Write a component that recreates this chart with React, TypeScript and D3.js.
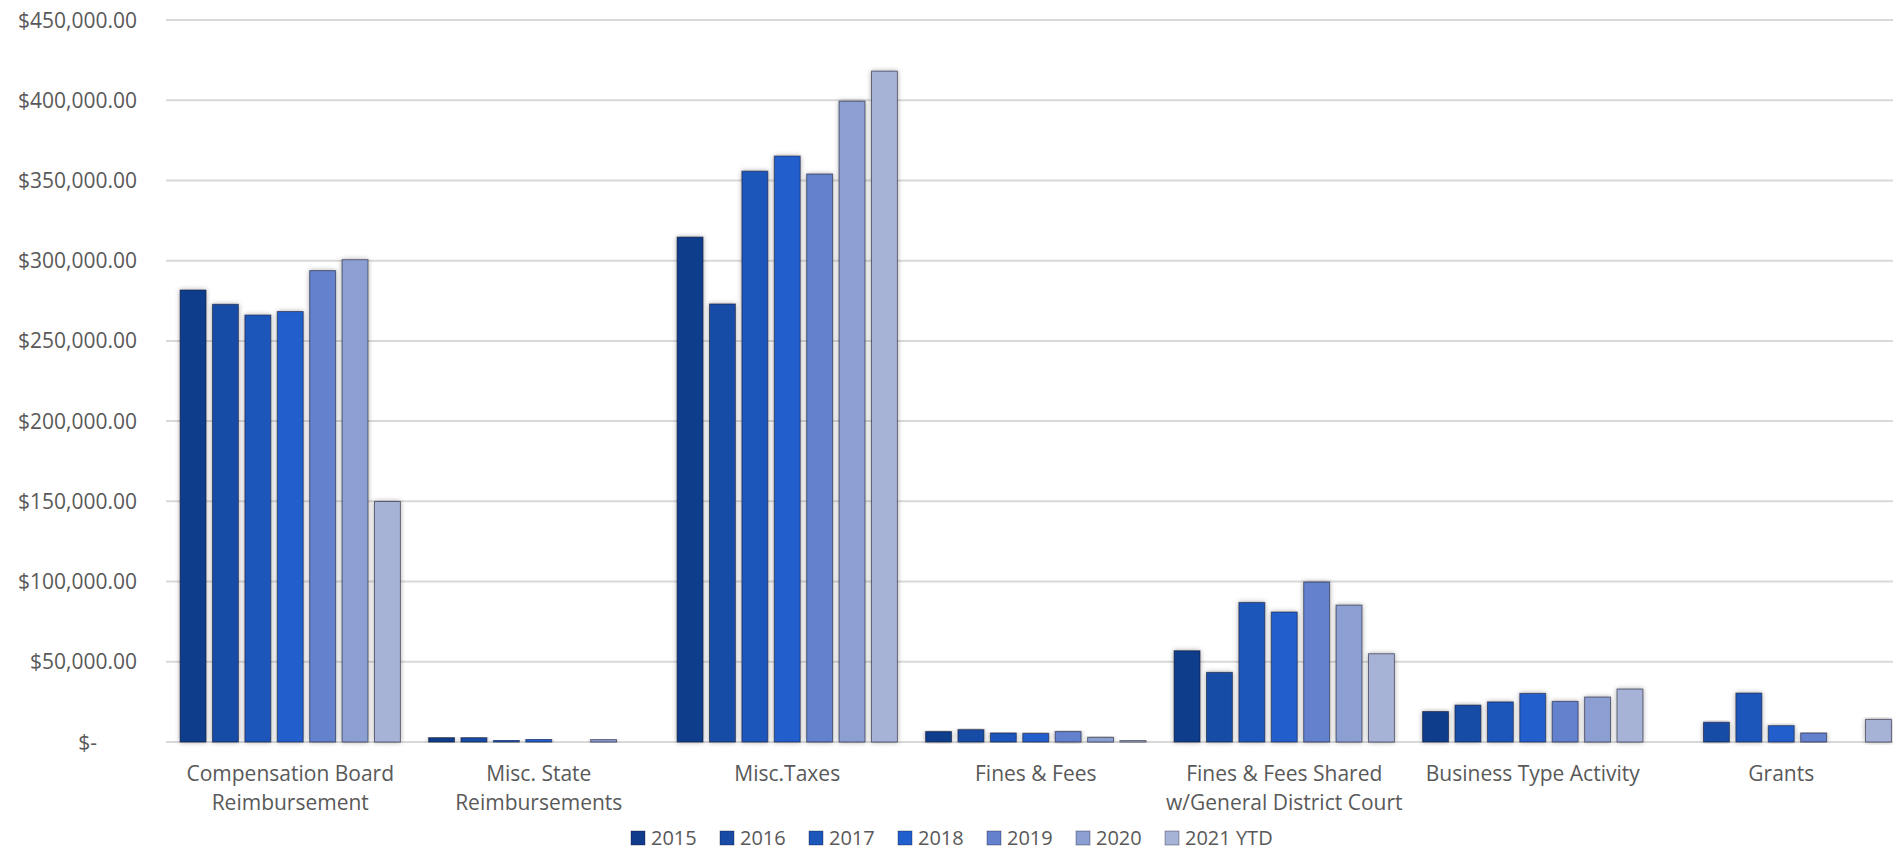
import React from "react";
import * as d3 from "d3";

const categories: string[][] = [
  ["Compensation Board", "Reimbursement"],
  ["Misc. State", "Reimbursements"],
  ["Misc.Taxes"],
  ["Fines & Fees"],
  ["Fines & Fees Shared", "w/General District Court"],
  ["Business Type Activity"],
  ["Grants"],
];

const seriesNames = ["2015", "2016", "2017", "2018", "2019", "2020", "2021 YTD"];

const v2015 = [281700, 2700, 314700, 6500, 56900, 19000, 0];
const v2016 = [272800, 2700, 273000, 7700, 43400, 23000, 12300];
const v2017 = [266100, 1100, 355800, 5600, 87000, 25000, 30500];
const v2018 = [268300, 1700, 365200, 5400, 81000, 30300, 10200];
const v2019 = [293800, 0, 354000, 6500, 99700, 25300, 5600];
const v2020 = [300600, 1500, 399400, 2900, 85300, 28000, 0];
const v2021 = [149900, 0, 418100, 900, 55000, 33000, 14100];

const seriesValues = [v2015, v2016, v2017, v2018, v2019, v2020, v2021];

const colors = ["#113C8B", "#174BA6", "#1D56BA", "#205FCD", "#6381CD", "#8C9FD2", "#A7B3D6"];

const yTicks = [0, 50000, 100000, 150000, 200000, 250000, 300000, 350000, 400000, 450000];

const W = 1893;
const H = 851;
const FONT = "'Open Sans', 'Liberation Sans', sans-serif";
const TEXT = "#595959";

export default function App() {
  const plotLeft = 166;
  const band = 248.5;
  const x0 = d3
    .scaleBand<number>()
    .domain(categories.map((_, i) => i))
    .range([plotLeft, plotLeft + band * categories.length])
    .padding(0);
  const x1 = d3
    .scaleBand<string>()
    .domain(seriesNames)
    .range([10.85, 237.65])
    .paddingInner(0.2)
    .paddingOuter(0.1);
  const y = d3.scaleLinear().domain([0, 450000]).range([742, 20]);

  const fmt = (d: number) => (d === 0 ? "$-" : "$" + d3.format(",.2f")(d));

  const legendStart = 631;
  const legendPitch = 89;
  const legendBase = 845;

  return (
    <div style={{ position: "absolute", left: 0, top: 0, width: W, height: H, overflow: "hidden", background: "#fff" }}>
      <svg width={W} height={H} style={{ display: "block", fontFamily: FONT }}>
        <defs>
          <filter id="barShadow" x="-50%" y="-10%" width="200%" height="120%">
            <feDropShadow dx="0" dy="0" stdDeviation="2.6" floodColor="#000" floodOpacity="0.35" />
          </filter>
        </defs>
        {/* gridlines */}
        {yTicks.map((t) => (
          <line
            key={t}
            x1={plotLeft}
            x2={W + 20}
            y1={y(t)}
            y2={y(t)}
            stroke="#D9D9D9"
            strokeWidth={2}
          />
        ))}
        {/* y labels */}
        {yTicks.map((t) => (
          <text
            key={"l" + t}
            x={t === 0 ? 97 : 137}
            y={y(t)}
            dy="0.36em"
            textAnchor="end"
            fontSize={21}
            fill={TEXT}
          >
            {fmt(t)}
          </text>
        ))}
        {/* bars */}
        {categories.map((_, ci) => (
          <g key={ci} transform={`translate(${x0(ci)},0)`}>
            {seriesNames.map((s, si) => {
              const v = seriesValues[si][ci];
              if (!v) return null;
              return (
                <rect
                  key={s}
                  x={x1(s)}
                  y={y(v)}
                  width={x1.bandwidth()}
                  height={y(0) - y(v)}
                  fill={colors[si]}
                  stroke="rgba(20,20,40,0.55)"
                  strokeWidth={1}
                  filter="url(#barShadow)"
                />
              );
            })}
          </g>
        ))}
        {/* category labels */}
        {categories.map((lines, ci) => (
          <text
            key={"c" + ci}
            x={(x0(ci) as number) + band / 2}
            y={781}
            textAnchor="middle"
            fontSize={21}
            fill={TEXT}
          >
            {lines.map((ln, li) => (
              <tspan key={li} x={(x0(ci) as number) + band / 2} dy={li === 0 ? 0 : 28.5}>
                {ln}
              </tspan>
            ))}
          </text>
        ))}
        {/* legend */}
        {seriesNames.map((s, i) => {
          const lx = legendStart + i * legendPitch;
          return (
            <g key={"lg" + s}>
              <rect x={lx} y={legendBase - 14} width={14} height={14} fill={colors[i]} stroke="rgba(20,20,40,0.45)" strokeWidth={0.8} />
              <text x={lx + 20} y={legendBase} fontSize={20} fill={TEXT}>
                {s}
              </text>
            </g>
          );
        })}
      </svg>
    </div>
  );
}
